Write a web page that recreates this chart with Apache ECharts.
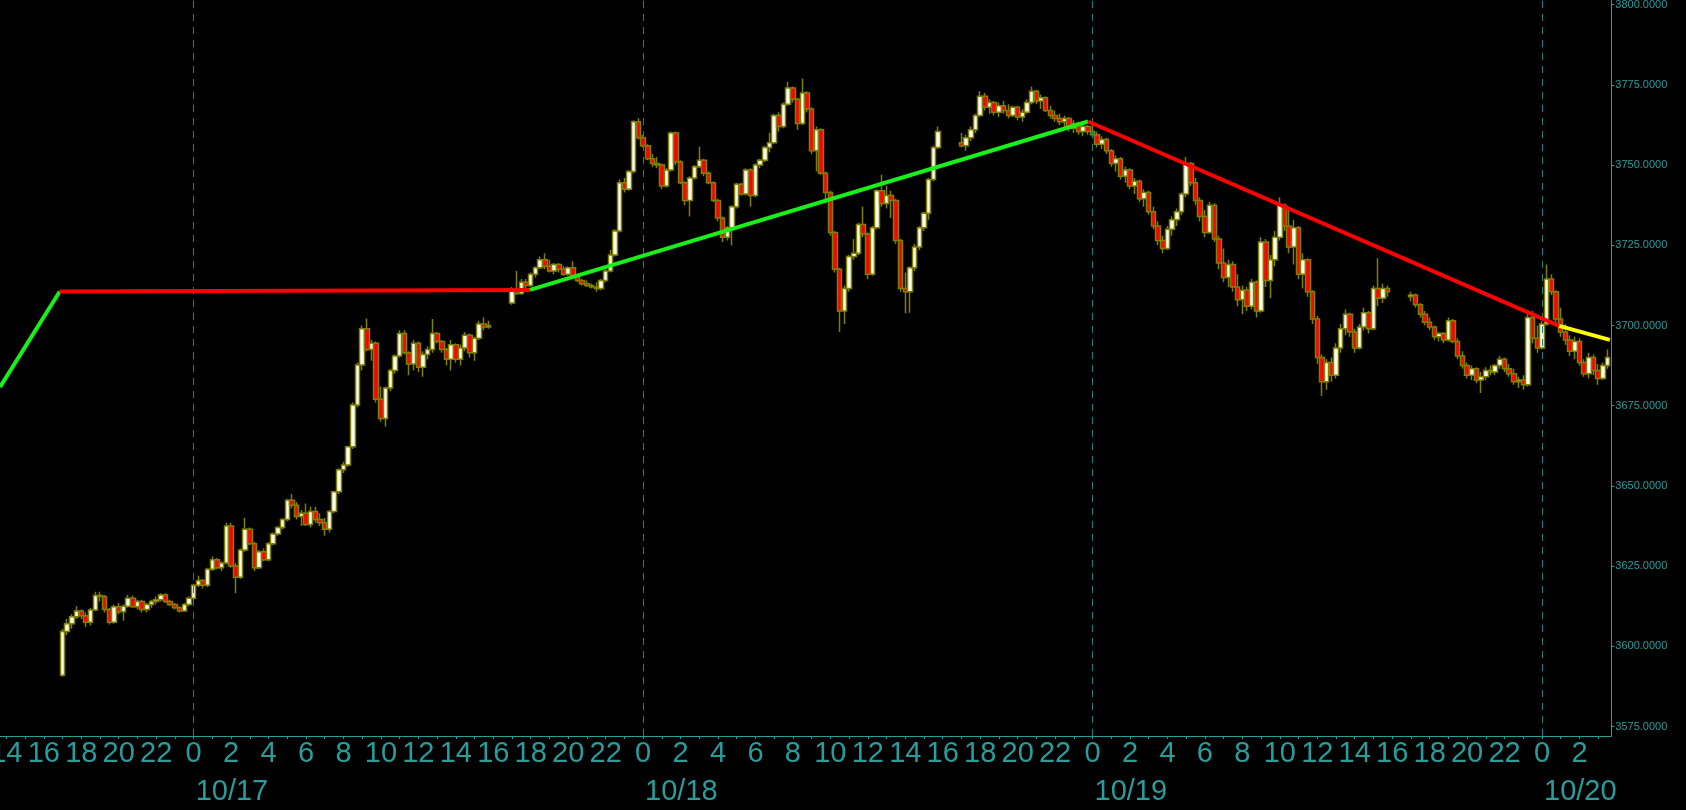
<!DOCTYPE html>
<html>
<head>
<meta charset="utf-8">
<script src="https://cdn.jsdelivr.net/npm/echarts@6/dist/echarts.min.js"></script>
<style>
html,body{margin:0;padding:0;background:#000;}
#chart{width:1686px;height:810px;}
</style>
</head>
<body>
<div id="chart"></div>
<script>
// Hours are counted from 10/16 00:00 (exchange time). Bars are 15 minutes.
const sessionStartHours = [17, 41, 65, 89];
// [open, high, low, close]
const session1Bars = [
[3591.0,3605.5,3590.5,3604.6],[3604.6,3608.5,3603.5,3607.0],[3607.0,3610.0,3605.5,3609.2],[3609.2,3612.5,3608.5,3611.0],
[3611.0,3611.5,3608.5,3609.5],[3609.5,3610.5,3606.0,3607.5],[3607.5,3612.0,3606.5,3611.3],[3611.3,3617.0,3611.0,3615.8],
[3615.8,3617.0,3614.0,3615.5],[3615.5,3616.0,3610.5,3611.5],[3611.5,3612.0,3606.8,3607.5],[3607.5,3613.0,3607.0,3612.3],
[3612.3,3613.5,3610.0,3610.8],[3610.8,3613.0,3608.0,3612.5],[3612.5,3616.0,3612.0,3615.0],[3615.0,3615.8,3612.0,3612.3],
[3612.3,3614.5,3611.5,3614.0],[3614.0,3614.5,3610.5,3611.5],[3611.5,3613.5,3610.5,3613.0],[3613.0,3614.5,3612.0,3614.0],
[3614.0,3615.5,3613.0,3614.5],[3614.5,3616.5,3614.0,3616.0],[3616.0,3616.5,3613.5,3614.0],[3614.0,3614.5,3612.5,3613.0],
[3613.0,3613.5,3611.5,3612.0],[3612.0,3612.5,3610.5,3611.0],[3611.0,3613.5,3610.8,3613.0],[3613.0,3615.5,3612.5,3615.0],
[3615.0,3619.5,3614.5,3619.0],[3619.0,3622.0,3618.5,3620.5],[3620.5,3621.0,3618.0,3619.0],[3619.0,3624.5,3618.5,3624.0],
[3624.0,3628.0,3623.5,3627.0],[3627.0,3627.5,3624.0,3624.5],[3624.5,3626.5,3623.5,3626.0],[3626.0,3638.5,3625.5,3637.5],
[3637.5,3638.5,3624.5,3625.0],[3625.0,3626.0,3616.5,3621.5],[3621.5,3630.5,3621.0,3630.0],[3630.0,3640.0,3629.5,3636.5],
[3636.5,3637.0,3631.5,3632.0],[3632.0,3632.5,3623.5,3624.5],[3624.5,3630.0,3624.0,3629.5],[3629.5,3630.5,3626.5,3627.0],
[3627.0,3632.5,3626.5,3632.0],[3632.0,3635.5,3631.5,3635.0],[3635.0,3637.5,3634.5,3637.0],[3637.0,3640.0,3636.5,3639.5],
[3639.5,3646.0,3639.0,3645.5],[3645.5,3647.5,3643.0,3644.0],[3644.0,3645.0,3639.5,3640.5],[3640.5,3642.5,3637.5,3641.5],
[3641.5,3644.5,3637.5,3638.0],[3638.0,3643.5,3637.0,3642.0],[3642.0,3643.5,3638.5,3639.5],[3639.5,3641.5,3637.5,3638.5],
[3638.5,3640.0,3634.5,3636.5],[3636.5,3642.5,3635.5,3642.0],[3642.0,3648.5,3641.5,3648.2],[3648.2,3655.5,3647.5,3655.0],
[3655.0,3657.5,3654.0,3656.5],[3656.5,3662.5,3656.0,3662.2],[3662.2,3676.0,3661.5,3675.2],[3675.2,3688.5,3674.5,3687.7],
[3687.7,3700.0,3686.0,3699.0],[3699.0,3702.2,3692.0,3692.5],[3692.5,3695.5,3689.0,3694.5],[3694.5,3695.0,3676.0,3677.0],
[3677.0,3681.0,3670.0,3671.0],[3671.0,3681.0,3668.5,3680.5],[3680.5,3686.5,3679.5,3686.0],[3686.0,3691.0,3685.0,3690.5],
[3690.5,3698.5,3690.0,3697.5],[3697.5,3698.5,3691.0,3691.5],[3691.5,3692.0,3684.5,3688.0],[3688.0,3695.5,3686.0,3694.5],
[3694.5,3695.0,3685.5,3687.0],[3687.0,3692.0,3684.0,3691.0],[3691.0,3693.5,3689.5,3692.5],[3692.5,3702.0,3691.5,3697.5],
[3697.5,3698.0,3694.5,3695.0],[3695.0,3695.5,3691.5,3692.5],[3692.5,3693.0,3687.5,3689.5],[3689.5,3695.5,3686.0,3694.0],
[3694.0,3694.5,3688.5,3689.5],[3689.5,3694.0,3687.5,3693.0],[3693.0,3698.0,3692.0,3697.0],[3697.0,3697.5,3690.0,3691.5],
[3691.5,3696.5,3689.0,3696.0],[3696.0,3701.5,3695.5,3700.5],[3700.5,3702.5,3698.5,3699.5],[3699.5,3701.5,3699.0,3700.0]
];
const session2Bars = [
[3707.0,3712.0,3706.5,3711.0],[3711.0,3717.0,3709.5,3710.0],[3710.0,3714.5,3709.5,3713.5],[3713.5,3714.5,3711.5,3712.5],
[3712.5,3716.5,3712.0,3716.0],[3716.0,3718.5,3715.0,3718.0],[3718.0,3721.5,3717.5,3720.5],[3720.5,3722.5,3717.5,3718.5],
[3718.5,3720.5,3716.5,3717.0],[3717.0,3719.5,3716.0,3719.0],[3719.0,3719.5,3716.5,3717.5],[3717.5,3718.5,3715.5,3716.0],
[3716.0,3718.5,3715.5,3718.0],[3718.0,3720.0,3715.0,3715.5],[3715.5,3716.0,3713.5,3714.0],[3714.0,3714.5,3712.5,3713.0],
[3713.0,3714.0,3712.0,3712.5],[3712.5,3713.0,3711.5,3712.0],[3712.0,3713.5,3710.5,3711.5],[3711.5,3714.5,3711.0,3714.0],
[3714.0,3717.5,3713.5,3717.0],[3717.0,3723.5,3716.5,3722.0],[3722.0,3730.0,3721.5,3729.5],[3729.5,3745.5,3729.0,3744.5],
[3744.5,3746.0,3741.5,3742.5],[3742.5,3748.5,3742.0,3748.0],[3748.0,3764.0,3747.5,3763.5],[3763.5,3764.6,3758.0,3758.5],
[3758.5,3759.5,3755.5,3756.0],[3756.0,3756.5,3751.5,3752.0],[3752.0,3753.5,3749.5,3750.5],[3750.5,3752.5,3749.0,3750.0],
[3750.0,3750.5,3742.5,3743.5],[3743.5,3749.0,3743.0,3748.5],[3748.5,3760.5,3748.0,3760.0],[3760.0,3760.5,3750.0,3751.0],
[3751.0,3751.5,3744.0,3744.5],[3744.5,3745.0,3737.5,3739.0],[3739.0,3746.5,3734.0,3746.0],[3746.0,3750.0,3745.5,3749.5],
[3749.5,3755.7,3749.0,3751.5],[3751.5,3752.0,3746.5,3747.5],[3747.5,3748.0,3744.0,3744.5],[3744.5,3745.0,3738.5,3739.0],
[3739.0,3739.5,3732.5,3733.5],[3733.5,3734.0,3726.0,3727.5],[3727.5,3731.0,3726.5,3730.5],[3730.5,3737.5,3725.0,3737.0],
[3737.0,3744.5,3736.5,3744.0],[3744.0,3744.5,3740.5,3741.0],[3741.0,3749.0,3740.5,3748.5],[3748.5,3749.0,3737.0,3740.5],
[3740.5,3750.5,3740.0,3750.0],[3750.0,3752.0,3749.0,3751.5],[3751.5,3756.0,3751.0,3755.5],[3755.5,3760.0,3754.0,3757.0],
[3757.0,3766.0,3756.5,3765.5],[3765.5,3766.5,3760.5,3762.0],[3762.0,3769.5,3761.5,3769.0],[3769.0,3776.0,3768.5,3774.0],
[3774.0,3774.5,3769.5,3770.5],[3770.5,3771.0,3761.0,3763.0],[3763.0,3777.0,3762.5,3772.5],[3772.5,3773.0,3766.5,3767.5],
[3767.5,3768.0,3753.5,3754.5],[3754.5,3762.0,3748.0,3761.0],[3761.0,3761.5,3747.0,3747.5],[3747.5,3748.0,3738.0,3741.5],
[3741.5,3742.0,3728.0,3729.0],[3729.0,3729.5,3716.5,3717.5],[3717.5,3718.0,3698.0,3704.5],[3704.5,3712.5,3700.5,3711.5],
[3711.5,3722.0,3710.5,3721.5],[3721.5,3727.0,3720.5,3722.5],[3722.5,3732.0,3722.0,3731.5],[3731.5,3737.0,3727.5,3728.5],
[3728.5,3729.0,3714.5,3716.0],[3716.0,3731.0,3715.5,3730.5],[3730.5,3742.5,3730.0,3742.0],[3742.0,3747.0,3737.0,3738.0],
[3738.0,3743.5,3736.5,3740.5],[3740.5,3742.0,3733.5,3739.0],[3739.0,3739.5,3725.5,3726.5],[3726.5,3727.0,3710.5,3711.5],
[3711.5,3716.5,3703.8,3710.5],[3710.5,3718.5,3704.0,3718.0],[3718.0,3725.5,3717.0,3724.5],[3724.5,3731.0,3723.5,3730.5],
[3730.5,3735.5,3729.5,3735.0],[3735.0,3746.0,3733.0,3745.5],[3745.5,3756.0,3745.0,3755.5],[3755.5,3762.0,3755.0,3760.5]
];
const session3Bars = [
[3757.0,3760.0,3755.5,3756.0],[3756.0,3759.5,3754.5,3758.5],[3758.5,3762.0,3757.5,3761.0],[3761.0,3766.0,3760.0,3765.5],
[3765.5,3773.0,3765.0,3771.5],[3771.5,3772.5,3767.0,3768.0],[3768.0,3770.5,3766.0,3769.5],[3769.5,3770.0,3765.5,3766.5],
[3766.5,3769.5,3765.0,3768.5],[3768.5,3770.0,3766.0,3767.0],[3767.0,3769.0,3764.5,3765.5],[3765.5,3768.5,3765.0,3768.0],
[3768.0,3768.5,3764.0,3765.0],[3765.0,3767.5,3763.5,3766.5],[3766.5,3770.5,3766.0,3769.5],[3769.5,3774.5,3769.0,3773.0],
[3773.0,3773.5,3769.0,3770.0],[3770.0,3772.0,3767.5,3771.0],[3771.0,3771.5,3766.5,3767.0],[3767.0,3768.5,3764.5,3765.5],
[3765.5,3767.0,3763.5,3764.5],[3764.5,3766.0,3762.5,3763.5],[3763.5,3765.5,3761.5,3764.5],[3764.5,3765.0,3760.5,3761.5],
[3761.5,3764.0,3760.0,3763.0],[3763.0,3763.5,3759.5,3760.5],[3760.5,3763.0,3759.0,3762.0],[3762.0,3762.5,3759.5,3760.5],
[3760.5,3762.5,3758.5,3759.5],[3759.5,3760.5,3755.5,3756.5],[3756.5,3759.0,3755.0,3758.0],[3758.0,3758.5,3753.5,3754.5],
[3754.5,3755.0,3749.5,3750.5],[3750.5,3753.0,3748.0,3752.0],[3752.0,3752.5,3745.5,3746.5],[3746.5,3749.5,3744.5,3748.5],
[3748.5,3749.0,3742.5,3743.5],[3743.5,3746.0,3741.0,3745.0],[3745.0,3745.5,3738.5,3739.5],[3739.5,3742.5,3737.0,3741.5],
[3741.5,3742.0,3734.5,3735.5],[3735.5,3737.0,3730.0,3731.0],[3731.0,3732.5,3725.0,3726.5],[3726.5,3728.0,3722.5,3724.0],
[3724.0,3731.0,3723.5,3730.0],[3730.0,3734.0,3728.0,3733.0],[3733.0,3736.5,3731.0,3735.5],[3735.5,3741.5,3734.5,3741.0],
[3741.0,3752.5,3740.0,3750.5],[3750.5,3751.0,3743.5,3744.5],[3744.5,3746.0,3737.5,3739.0],[3739.0,3740.0,3732.5,3734.0],
[3734.0,3736.0,3727.5,3729.0],[3729.0,3738.5,3728.5,3737.5],[3737.5,3738.0,3726.0,3727.0],[3727.0,3728.0,3717.5,3719.5],
[3719.5,3724.0,3713.5,3715.0],[3715.0,3720.5,3712.0,3719.0],[3719.0,3720.0,3710.5,3712.0],[3712.0,3716.0,3706.0,3708.0],
[3708.0,3712.5,3703.5,3711.0],[3711.0,3712.0,3704.5,3706.0],[3706.0,3714.5,3705.0,3713.5],[3713.5,3714.0,3702.5,3704.5],
[3704.5,3727.5,3704.0,3726.0],[3726.0,3727.0,3712.0,3714.0],[3714.0,3722.0,3708.5,3720.5],[3720.5,3729.5,3718.5,3727.5],
[3727.5,3740.0,3726.5,3737.5],[3737.5,3738.0,3729.5,3731.0],[3731.0,3736.5,3722.5,3724.5],[3724.5,3733.0,3719.0,3730.5],
[3730.5,3731.0,3714.5,3716.0],[3716.0,3722.5,3711.5,3720.5],[3720.5,3721.0,3709.0,3710.5],[3710.5,3711.0,3700.5,3702.0],
[3702.0,3703.0,3688.0,3690.0],[3690.0,3691.0,3678.0,3682.5],[3682.5,3689.5,3680.0,3688.5],[3688.5,3690.0,3682.5,3684.5],
[3684.5,3694.5,3683.5,3693.0],[3693.0,3700.5,3691.5,3699.0],[3699.0,3705.0,3697.0,3703.5],[3703.5,3704.0,3696.5,3698.0],
[3698.0,3699.0,3691.5,3693.0],[3693.0,3700.5,3692.5,3699.5],[3699.5,3705.5,3698.5,3704.0],[3704.0,3704.5,3697.5,3699.0],
[3699.0,3712.5,3698.5,3711.5],[3711.5,3721.0,3706.0,3708.5],[3708.5,3713.0,3707.0,3711.5],[3711.5,3712.5,3709.0,3710.5]
];
const session4Bars = [
[3709.0,3710.5,3707.5,3709.5],[3709.5,3710.0,3705.5,3706.5],[3706.5,3707.0,3702.5,3703.5],[3703.5,3704.5,3700.0,3701.0],
[3701.0,3702.5,3698.5,3699.5],[3699.5,3700.0,3695.5,3696.5],[3696.5,3698.0,3695.0,3697.5],[3697.5,3698.0,3694.5,3695.5],
[3695.5,3702.5,3695.0,3701.5],[3701.5,3702.0,3694.5,3695.0],[3695.0,3696.0,3689.5,3690.5],[3690.5,3692.0,3686.5,3687.5],
[3687.5,3688.5,3683.5,3684.5],[3684.5,3687.5,3683.0,3686.5],[3686.5,3687.0,3682.0,3683.0],[3683.0,3685.5,3679.0,3684.0],
[3684.0,3687.0,3683.0,3686.0],[3686.0,3687.5,3684.5,3685.5],[3685.5,3688.0,3684.5,3687.5],[3687.5,3690.5,3686.5,3689.5],
[3689.5,3690.0,3685.5,3686.5],[3686.5,3688.0,3684.0,3685.0],[3685.0,3686.5,3681.5,3682.5],[3682.5,3684.0,3680.5,3683.0],
[3683.0,3684.5,3680.0,3681.5],[3681.5,3704.0,3681.0,3702.5],[3702.5,3704.5,3694.5,3696.0],[3696.0,3700.0,3691.5,3693.0],
[3693.0,3701.5,3692.5,3700.5],[3700.5,3719.0,3700.0,3714.5],[3714.5,3716.0,3709.5,3710.5],[3710.5,3711.0,3700.5,3702.0],
[3702.0,3705.5,3696.5,3698.0],[3698.0,3700.5,3694.0,3695.5],[3695.5,3697.0,3690.5,3692.0],[3692.0,3696.5,3689.5,3695.0],
[3695.0,3696.0,3687.5,3688.5],[3688.5,3689.5,3684.0,3685.0],[3685.0,3691.5,3683.5,3690.0],[3690.0,3691.0,3684.5,3686.0],
[3686.0,3688.0,3681.5,3683.5],[3683.5,3688.5,3683.0,3687.5],[3687.5,3692.5,3686.5,3690.0]
];
// zigzag pivots (hour, price) and segment colours
const pivotHours  = [13.66, 16.85, 41.96, 71.76, 96.91, 99.62];
const pivotPrices = [3680.8, 3710.6, 3711.1, 3763.6, 3699.9, 3695.5];
const segmentColors = ['#19f019', '#ff0000', '#19f019', '#ff0000', '#ffff00'];
// axes
const xMin = 13.66, xMax = 99.70;
const yMin = 3572.04, yMax = 3801.47;
const priceTicks = [3575, 3600, 3625, 3650, 3675, 3700, 3725, 3750, 3775, 3800];
const dayHours = [24, 48, 72, 96];
const dayLabels = ['10/17', '10/18', '10/19', '10/20'];

const teal = '#2a9c9c';
const sessions = [session1Bars, session2Bars, session3Bars, session4Bars];
const candleData = [];
sessions.forEach((bars, s) => {
  bars.forEach((b, i) => {
    const t = sessionStartHours[s] + i * 0.25;
    candleData.push([t, b[0], b[3], b[2], b[1]]);
  });
});
const hourTicks = [];
for (let h = Math.ceil(xMin); h <= Math.floor(xMax); h++) hourTicks.push(h);
const hourLabels = hourTicks.filter(h => h % 2 === 0);

const lineSeries = segmentColors.map((c, i) => ({
  type: 'line',
  data: [[pivotHours[i], pivotPrices[i]], [pivotHours[i + 1], pivotPrices[i + 1]]],
  showSymbol: false,
  symbol: 'none',
  lineStyle: { color: c, width: 4 },
  z: 5,
  silent: true,
  clip: true
}));

const chart = echarts.init(document.getElementById('chart'), null, { renderer: 'canvas' });
chart.setOption({
  animation: false,
  backgroundColor: '#000000',
  grid: { left: 0, right: 74.7, top: 0, bottom: 74, outerBoundsMode: 'none' },
  xAxis: [{
    type: 'value', min: xMin, max: xMax, position: 'bottom',
    axisLine: { show: true, lineStyle: { color: teal, width: 1 } },
    axisTick: { show: true, customValues: hourTicks, length: 3, lineStyle: { color: teal } },
    axisLabel: {
      customValues: hourLabels, color: teal, fontFamily: 'Liberation Sans', fontSize: 29, margin: 3,
      formatter: v => String(Math.round(v) % 24)
    },
    splitLine: { show: false }
  }, {
    type: 'value', min: xMin, max: xMax, position: 'bottom', gridIndex: 0,
    axisLine: { show: false }, axisTick: { show: false },
    axisLabel: {
      customValues: dayHours, color: teal, fontFamily: 'Liberation Sans', fontSize: 29, margin: 41, align: 'left',
      padding: [0, 0, 0, 2],
      formatter: v => dayLabels[dayHours.indexOf(Math.round(v))] || ''
    },
    splitLine: { show: false }
  }],
  yAxis: {
    type: 'value', position: 'right', min: yMin, max: yMax, scale: true,
    axisLine: { show: true, lineStyle: { color: teal, width: 1 } },
    axisTick: { show: true, customValues: priceTicks, length: 3, lineStyle: { color: teal } },
    axisLabel: {
      customValues: priceTicks, color: teal, fontFamily: 'Liberation Sans', fontSize: 11, margin: 4,
      formatter: v => v.toFixed(4)
    },
    splitLine: { show: false }
  },
  series: [{
    type: 'candlestick',
    xAxisIndex: 0,
    data: candleData,
    encode: { x: 0, y: [1, 2, 3, 4] },
    barWidth: 5,
    itemStyle: { color: '#fffff0', color0: '#ff0000', borderColor: '#808000', borderColor0: '#808000', borderWidth: 1.5 },
    z: 3,
    silent: true,
    markLine: {
      silent: true, symbol: 'none', label: { show: false },
      lineStyle: { color: '#1f8080', type: [7, 6], width: 1 },
      data: dayHours.map(h => ({ xAxis: h }))
    }
  }].concat(lineSeries)
});
</script>
</body>
</html>
